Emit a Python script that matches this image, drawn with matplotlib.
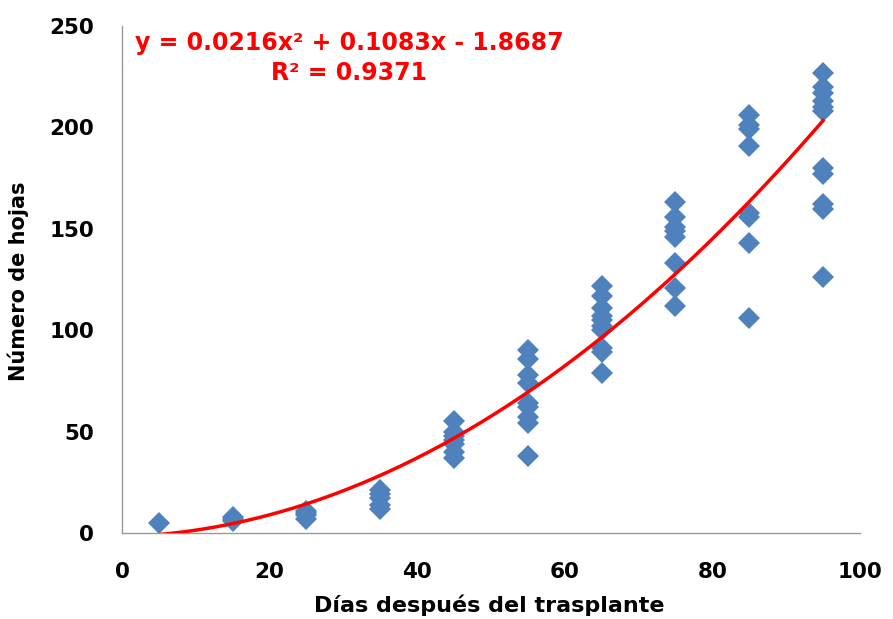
import matplotlib
matplotlib.use("Agg")
import matplotlib.pyplot as plt
import numpy as np

plt.rcParams['font.family'] = ['DejaVu Sans']

days = [5, 15, 25, 35, 45, 55, 65, 75, 85, 95]
leaves = [
    [5],
    [6, 7, 8],
    [7, 9, 10, 11],
    [12, 14, 17, 19, 21],
    [37, 40, 44, 46, 48, 50, 55],
    [38, 54, 57, 62, 64, 74, 78, 86, 90],
    [79, 89, 91, 100, 102, 105, 107, 111, 117, 122],
    [112, 121, 133, 146, 149, 151, 156, 163],
    [106, 143, 156, 158, 191, 199, 201, 206],
    [126, 160, 162, 177, 180, 208, 210, 213, 217, 220, 227],
]
coef = [0.0216, 0.1083, -1.8687]
r2 = 0.9371
xticks = [0, 20, 40, 60, 80, 100]
yticks = [0, 50, 100, 150, 200, 250]

xs = np.concatenate([[d] * len(v) for d, v in zip(days, leaves)])
ys = np.concatenate(leaves)

fig = plt.figure(figsize=(8.93, 6.19), dpi=100)
ax = fig.add_axes([0.1366, 0.139, 0.8264, 0.819])

ax.plot(xs, ys, linestyle='none', marker='D', markersize=11.5,
        color='#4F81BD', markeredgewidth=0, zorder=2)

xf = np.linspace(min(days), max(days), 300)
yf = np.polyval(coef, xf)
ax.plot(xf, yf, color='#FF0000', linewidth=2.5, zorder=3)

ax.set_xlim(0, 100)
ax.set_ylim(0, 250)
ax.set_xticks(xticks)
ax.set_yticks(yticks)
ax.tick_params(axis='y', length=0, labelsize=15.5, pad=20)
ax.tick_params(axis='x', length=0, labelsize=15.5, pad=21)
for lab in ax.get_xticklabels() + ax.get_yticklabels():
    lab.set_fontweight('bold')
for s in ['top', 'right']:
    ax.spines[s].set_visible(False)
for s in ['left', 'bottom']:
    ax.spines[s].set_color('#999999')
    ax.spines[s].set_linewidth(1.0)

ax.set_xlabel('Días después del trasplante', fontsize=16, fontweight='bold')
ax.xaxis.set_label_coords(489 / 893 - 0.1366 + 0.1366, 0, transform=fig.transFigure)
ax.xaxis.label.set_position((489 / 893, 1 - 605 / 619))
ax.xaxis.label.set_verticalalignment('center')
ax.set_ylabel('Número de hojas', fontsize=15, fontweight='bold')
ax.yaxis.set_label_coords(18 / 893, 1 - 281 / 619, transform=fig.transFigure)
ax.yaxis.label.set_verticalalignment('center')

eq = f'y = {coef[0]:.4f}x² + {coef[1]:.4f}x - {abs(coef[2]):.4f}'
r2txt = f'R² = {r2:.4f}'
fig.text(349 / 893, 1 - 43 / 619, eq, color='#FF0000', fontsize=17,
         fontweight='bold', ha='center', va='center')
fig.text(349 / 893, 1 - 73 / 619, r2txt, color='#FF0000', fontsize=17,
         fontweight='bold', ha='center', va='center')

fig.savefig('out.png', dpi=100)
